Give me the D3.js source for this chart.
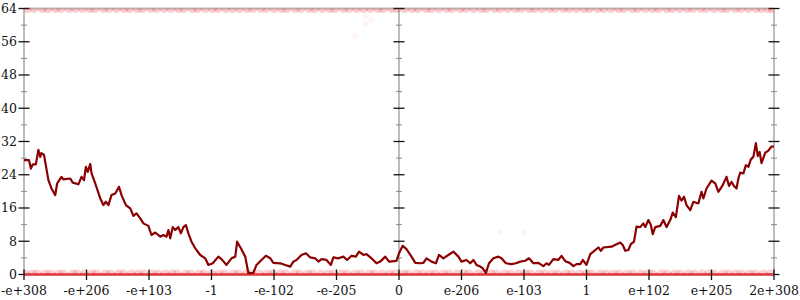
<!DOCTYPE html>
<html>
<head>
<meta charset="utf-8">
<script src="https://cdn.jsdelivr.net/npm/d3@7"></script>
<style>
  html, body { margin: 0; padding: 0; background: #fff; }
  svg { display: block; }
  text { font-family: "DejaVu Serif", serif; font-size: 12.5px; fill: #111; }
</style>
</head>
<body>
<svg id="chart" width="800" height="300"></svg>
<script>
// ---- data ----
const xTickValues = [-6, -5, -4, -3, -2, -1, 0, 1, 2, 3, 4, 5, 6];
const xTickLabels = ["-e+308", "-e+206", "-e+103", "-1", "-e-102", "-e-205", "0",
                     "e-206", "e-103", "1", "e+102", "e+205", "2e+308"];
const yTickValues = [0, 8, 16, 24, 32, 40, 48, 56, 64];
const yMinorValues = [4, 12, 20, 28, 36, 44, 52, 60];

// running line: x position (tick units) and value
const lineX = [-6.00,-5.92,-5.89,-5.86,-5.81,-5.77,-5.74,-5.72,-5.68,-5.61,-5.56,-5.50,-5.47,-5.44,-5.40,-5.37,-5.26,-5.22,-5.13,-5.08,
  -5.04,-5.01,-4.98,-4.94,-4.92,-4.86,-4.78,-4.73,-4.69,-4.65,-4.60,-4.54,-4.48,-4.44,-4.37,-4.30,-4.25,-4.20,-4.14,-4.09,
  -4.01,-3.96,-3.90,-3.82,-3.77,-3.72,-3.69,-3.66,-3.62,-3.58,-3.53,-3.49,-3.45,-3.41,-3.37,-3.32,-3.26,-3.18,-3.10,-3.05,
  -2.98,-2.89,-2.84,-2.76,-2.68,-2.62,-2.59,-2.53,-2.46,-2.41,-2.33,-2.28,-2.20,-2.13,-2.06,-2.01,-1.90,-1.82,-1.74,-1.69,
  -1.64,-1.56,-1.49,-1.42,-1.34,-1.29,-1.24,-1.16,-1.09,-1.05,-0.97,-0.89,-0.83,-0.76,-0.69,-0.64,-0.57,-0.52,-0.44,-0.36,
  -0.30,-0.22,-0.16,-0.04,0.00,0.06,0.12,0.20,0.26,0.34,0.39,0.44,0.52,0.59,0.64,0.71,0.79,0.87,0.95,1.00,
  1.08,1.14,1.19,1.24,1.30,1.34,1.39,1.44,1.51,1.59,1.64,1.71,1.80,1.87,1.94,2.02,2.08,2.15,2.23,2.31,
  2.36,2.40,2.47,2.55,2.60,2.66,2.73,2.79,2.84,2.90,2.94,2.98,3.00,3.06,3.11,3.19,3.23,3.27,3.40,3.48,
  3.54,3.58,3.62,3.67,3.71,3.76,3.80,3.86,3.91,3.94,3.99,4.03,4.06,4.10,4.18,4.23,4.28,4.34,4.38,4.43,
  4.48,4.52,4.56,4.60,4.66,4.71,4.79,4.84,4.87,4.92,5.00,5.06,5.11,5.18,5.24,5.28,5.32,5.36,5.40,5.43,
  5.46,5.51,5.55,5.59,5.63,5.67,5.71,5.74,5.77,5.80,5.86,5.91,5.96,6.00];
const lineY = [27.5,27.5,25.5,26.5,26.5,30.0,28.3,29.2,28.8,22.7,20.7,19.1,21.9,22.6,23.5,22.9,23.1,22.1,21.7,23.5,
  22.7,25.9,24.7,26.6,24.4,21.9,18.3,16.7,17.5,16.7,19.1,19.5,21.1,19.1,16.7,15.9,14.1,14.7,13.5,12.3,
  11.7,9.5,10.1,9.1,9.5,9.1,10.7,8.7,11.4,10.7,11.4,9.9,11.4,11.9,9.9,7.9,6.3,4.7,3.9,2.3,
  2.7,4.3,3.7,2.3,3.9,4.3,7.9,6.3,4.3,0.3,0.4,2.3,3.5,4.5,3.9,2.8,2.7,2.3,1.9,3.1,
  3.5,4.7,5.1,4.1,3.9,3.1,3.7,3.5,2.3,4.1,3.9,4.3,3.5,4.5,4.3,5.5,4.7,4.9,3.9,2.7,
  3.1,4.3,3.1,3.3,5.1,6.9,6.1,4.3,2.8,2.7,2.8,3.9,3.1,2.7,4.7,3.9,4.7,5.5,4.3,3.1,
  3.5,2.7,3.5,2.3,1.9,1.5,0.4,2.7,3.9,4.3,3.9,2.7,2.5,2.7,3.1,3.3,3.9,2.7,2.8,2.0,
  2.7,2.3,3.7,3.5,4.5,3.2,2.8,2.0,2.5,2.5,3.5,2.7,2.3,4.9,5.5,6.5,5.7,6.5,6.7,7.3,
  7.7,7.1,5.7,5.9,7.3,7.9,11.5,11.4,12.3,11.4,13.1,11.9,9.7,11.4,11.7,13.1,11.4,13.1,14.9,13.8,
  18.9,17.8,18.7,16.7,15.5,17.5,17.1,19.9,18.3,20.7,22.6,21.9,19.9,21.5,23.5,21.3,22.3,21.3,20.7,23.1,
  24.5,24.3,26.3,25.9,27.7,28.3,31.6,28.5,29.5,26.8,29.3,29.8,30.8,30.8];

// individual samples at the extremes (value 0 and value 64) and a few strays
const lowSamplesX = [-5.98,-5.87,-5.79,-5.66,-5.58,-5.45,-5.37,-5.22,-5.15,-5.03,-4.91,-4.84,-4.70,-4.62,-4.49,-4.41,-4.28,-4.17,-4.08,-3.95,
  -3.86,-3.74,-3.63,-3.55,-3.41,-3.33,-3.20,-3.12,-2.99,-2.88,-2.79,-2.65,-2.57,-2.44,-2.36,-2.23,-2.11,-2.02,-1.90,-1.81,
  -1.67,-1.59,-1.46,-1.38,-1.25,-1.13,-1.04,-0.92,-0.83,-0.70,-0.61,-0.48,-0.40,-0.27,-0.15,-0.06,0.07,0.15,0.28,0.37,
  0.49,0.58,0.71,0.80,0.93,1.04,1.12,1.26,1.35,1.47,1.56,1.69,1.78,1.91,2.02,2.10,2.24,2.33,2.45,2.54,
  2.67,2.76,2.89,3.00,3.08,3.22,3.31,3.43,3.52,3.65,3.74,3.87,3.98,4.06,4.20,4.29,4.41,4.50,4.63,4.72,
  4.85,4.96,5.04,5.18,5.27,5.39,5.48,5.61,5.70,5.83,5.94];
const highSamplesX = [-5.95,-5.84,-5.71,-5.62,-5.50,-5.41,-5.28,-5.18,-5.06,-4.95,-4.86,-4.73,-4.64,-4.52,-4.40,-4.31,-4.19,-4.10,-3.97,-3.88,
  -3.76,-3.65,-3.53,-3.44,-3.31,-3.22,-3.10,-2.98,-2.89,-2.77,-2.66,-2.55,-2.43,-2.34,-2.21,-2.12,-2.00,-1.88,-1.79,-1.66,
  -1.57,-1.44,-1.35,-1.23,-1.11,-1.02,-0.89,-0.80,-0.68,-0.57,-0.46,-0.34,-0.25,-0.12,-0.03,0.09,0.21,0.30,0.43,0.52,
  0.64,0.76,0.85,0.98,1.07,1.19,1.31,1.40,1.53,1.62,1.74,1.86,1.95,2.08,2.17,2.29,2.41,2.50,2.63,2.72,
  2.84,2.96,3.05,3.18,3.27,3.39,3.51,3.60,3.73,3.82,3.94,4.06,4.15,4.28,4.37,4.49,4.61,4.70,4.83,4.92,
  5.04,5.16,5.25,5.38,5.47,5.59,5.71,5.80,5.90,5.97];
const strayX = [-0.53, -0.54, -0.45, -0.70, 1.62, 2.00];
const strayY = [62.2, 60.3, 61.2, 57.4, 10.2, 10.0];

// ---- layout ----
const svg = d3.select("#chart");
const mLeft = 24, mRight = 774, mTop = 8.5, mBottom = 274.5;
const x = d3.scaleLinear().domain([-6, 6]).range([mLeft, mRight]);
const y = d3.scaleLinear().domain([0, 64]).range([mBottom, mTop]);

svg.append("defs").append("clipPath").attr("id", "plot")
  .append("rect").attr("x", mLeft).attr("y", mTop).attr("width", mRight - mLeft).attr("height", mBottom - mTop);

const axisColor = "#bdbdbd";

// axis lines: top border and vertical axes
svg.append("line").attr("x1", mLeft).attr("x2", mRight).attr("y1", y(64)).attr("y2", y(64))
  .attr("stroke", axisColor).attr("stroke-width", 2);
svg.append("line").attr("x1", mLeft).attr("x2", mRight).attr("y1", y(0)).attr("y2", y(0))
  .attr("stroke", axisColor).attr("stroke-width", 2);
[x(-6), x(0), x(6)].forEach(px => {
  svg.append("line").attr("x1", px).attr("x2", px).attr("y1", y(64)).attr("y2", y(0) + 1)
    .attr("stroke", axisColor).attr("stroke-width", 2);
  svg.selectAll(null).data(yMinorValues).enter().append("line")
    .attr("x1", px - 3).attr("x2", px + 3).attr("y1", d => y(d)).attr("y2", d => y(d))
    .attr("stroke", "#888").attr("stroke-width", 1);
  svg.selectAll(null).data(yTickValues).enter().append("line")
    .attr("x1", px - 5.5).attr("x2", px + 5.5).attr("y1", d => y(d)).attr("y2", d => y(d))
    .attr("stroke", "#111").attr("stroke-width", 1.3);
});

// samples
const pts = svg.append("g").attr("clip-path", "url(#plot)");
pts.selectAll("circle.low").data(lowSamplesX).enter().append("circle")
  .attr("cx", d => x(d)).attr("cy", y(0)).attr("r", 5)
  .attr("fill", "#e8202a").attr("fill-opacity", 0.2);
pts.selectAll("circle.high").data(highSamplesX).enter().append("circle")
  .attr("cx", d => x(d)).attr("cy", y(64)).attr("r", 4.5)
  .attr("fill", "#e8202a").attr("fill-opacity", 0.22);
pts.selectAll("circle.stray").data(strayX).enter().append("circle")
  .attr("cx", d => x(d)).attr("cy", (d, i) => y(strayY[i])).attr("r", 3)
  .attr("fill", "#e8202a").attr("fill-opacity", 0.05);
// zero-valued samples pile up along the baseline
svg.append("line").attr("x1", mLeft).attr("x2", mRight).attr("y1", y(0)).attr("y2", y(0))
  .attr("stroke", "#e23a3f").attr("stroke-width", 2.5);

// x ticks
svg.selectAll(null).data(xTickValues).enter().append("line")
  .attr("x1", d => x(d)).attr("x2", d => x(d)).attr("y1", y(0) - 5).attr("y2", y(0) + 5.5)
  .attr("stroke", "#111").attr("stroke-width", 1.3);

// line
const lineData = lineX.map((d, i) => [d, lineY[i]]);
svg.append("path").datum(lineData)
  .attr("fill", "none").attr("stroke", "#8b0000").attr("stroke-width", 2.2)
  .attr("stroke-linejoin", "round")
  .attr("d", d3.line().x(d => x(d[0])).y(d => y(d[1])));

// labels
svg.selectAll(null).data(yTickValues).enter().append("text")
  .attr("x", mLeft - 7).attr("y", d => y(d)).attr("dy", "0.35em")
  .attr("text-anchor", "end").text(d => d);
svg.selectAll(null).data(xTickValues).enter().append("text")
  .attr("x", d => x(d)).attr("y", 294.5).attr("text-anchor", "middle")
  .text((d, i) => xTickLabels[i]);
</script>
</body>
</html>
